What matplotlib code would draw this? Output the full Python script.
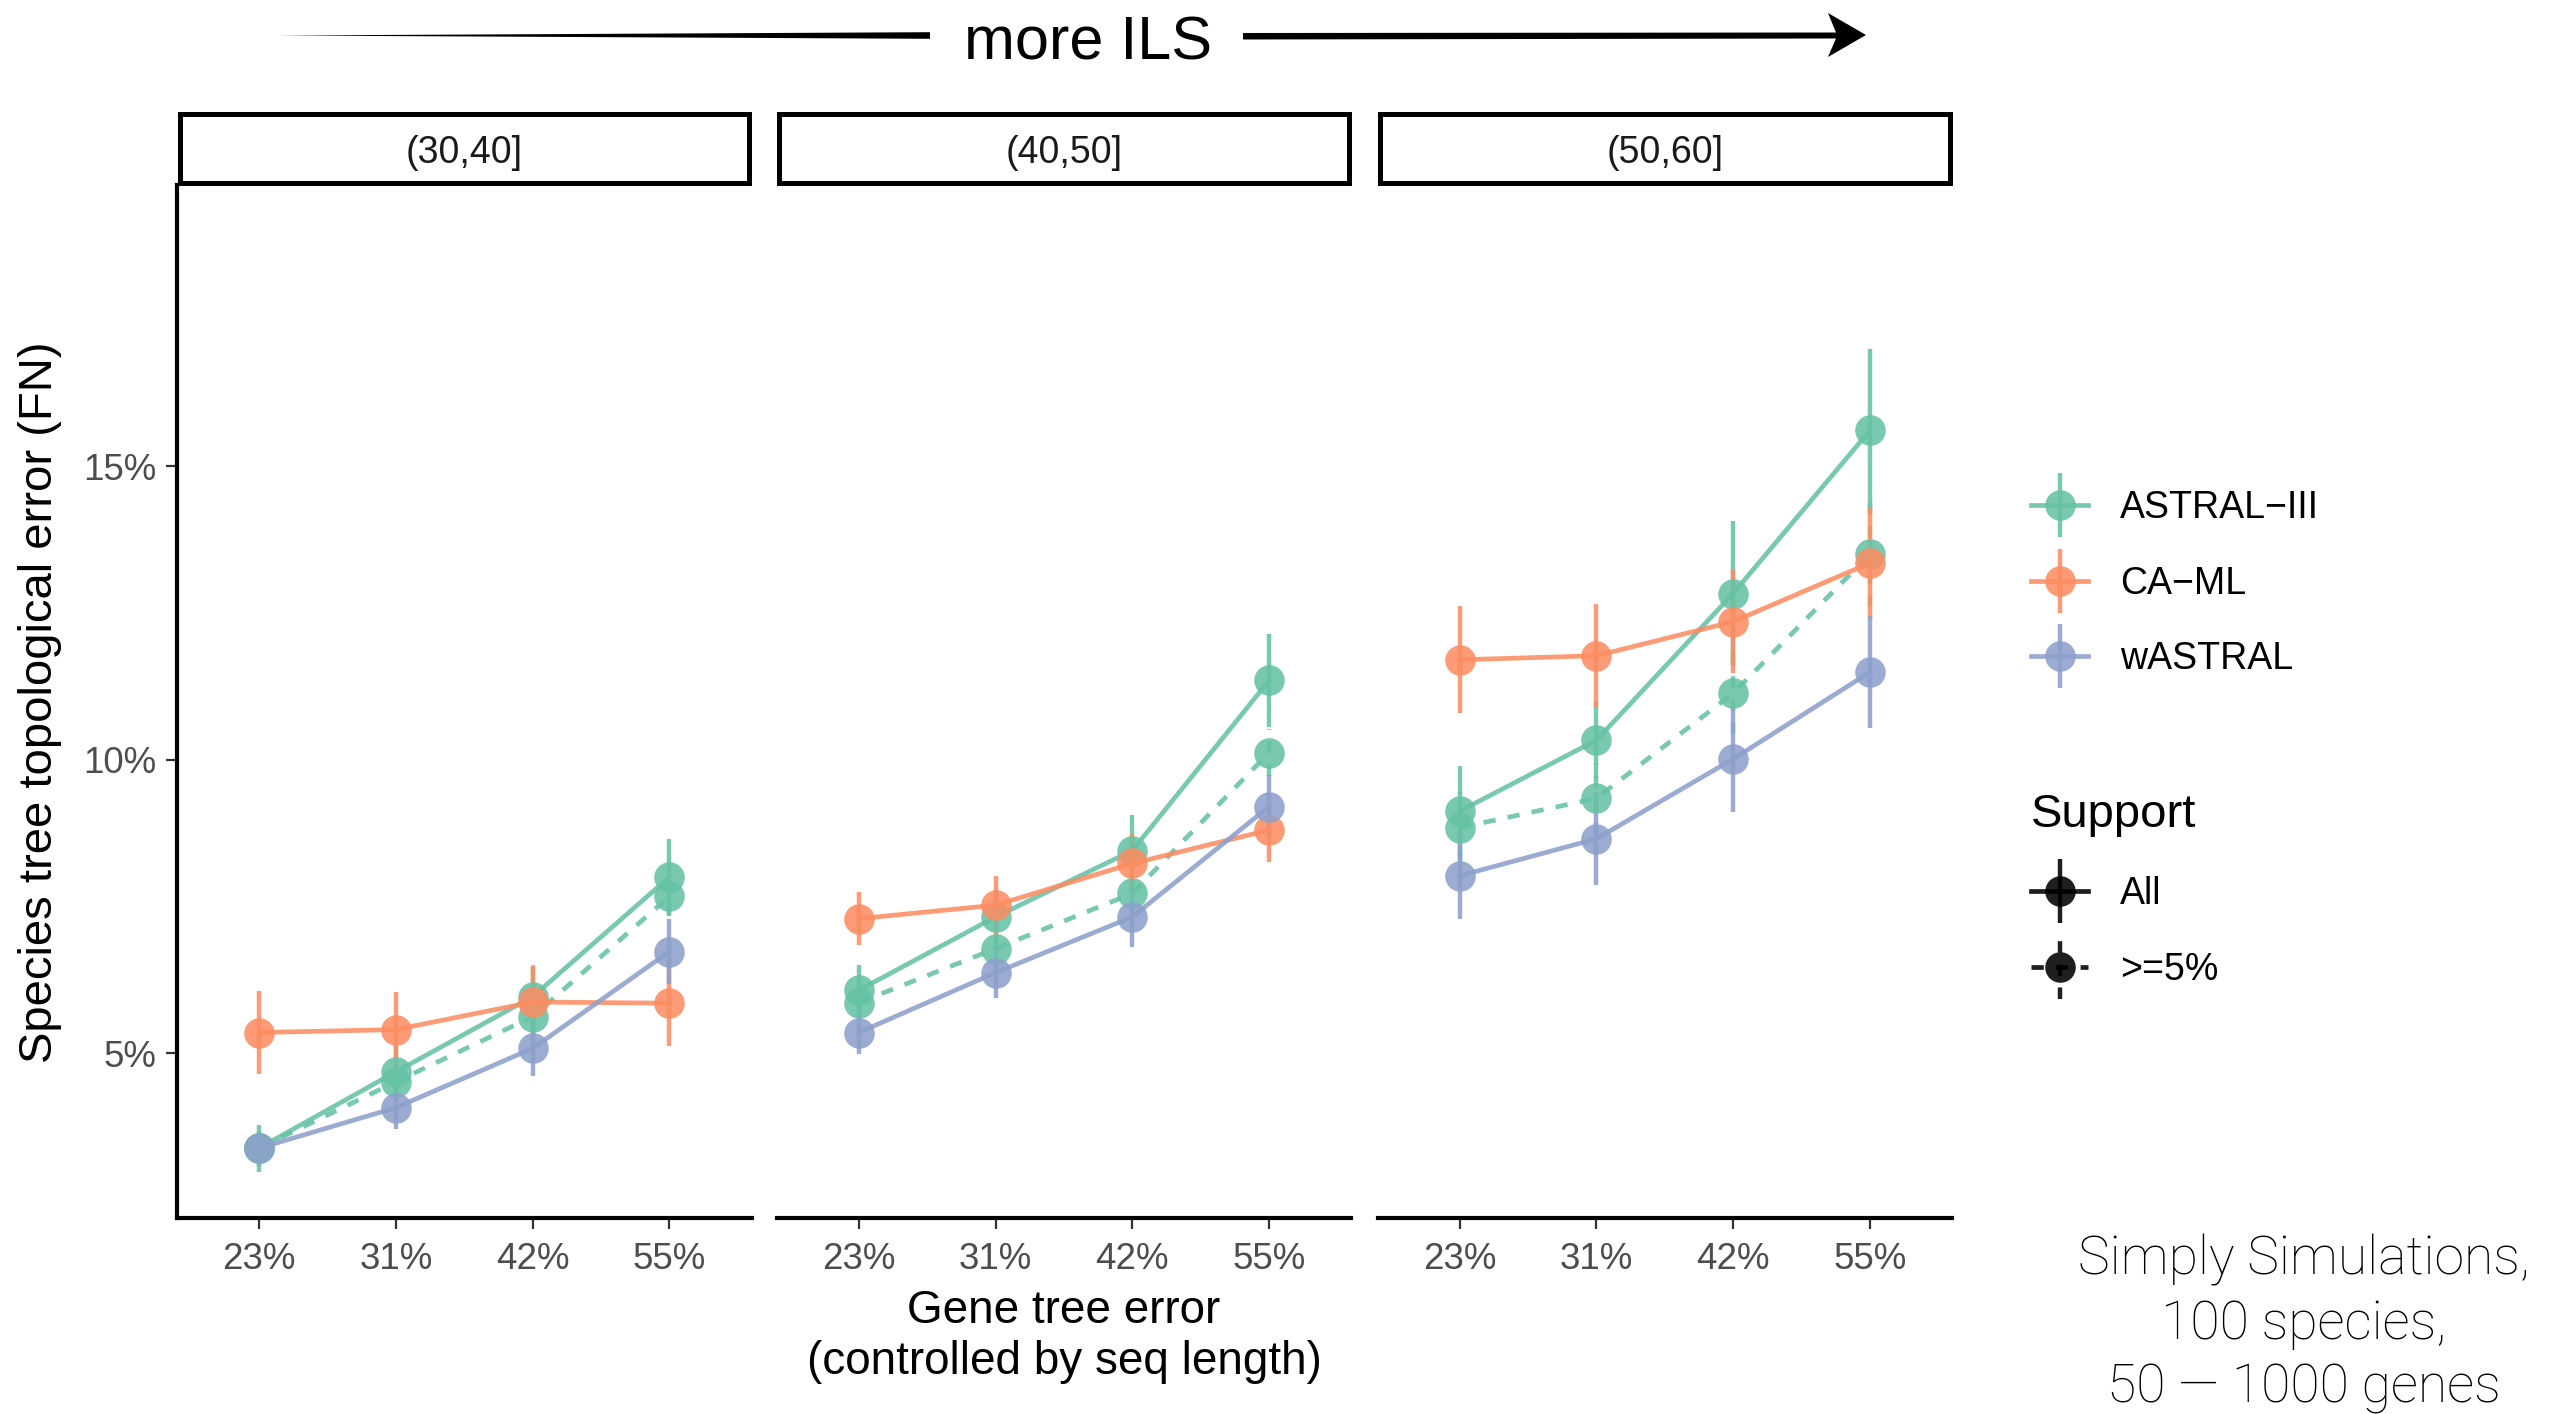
import matplotlib
matplotlib.use("Agg")
import matplotlib.pyplot as plt
from matplotlib.patches import Polygon
from matplotlib.container import ErrorbarContainer
from matplotlib.legend_handler import HandlerErrorbar

plt.rcParams['font.family'] = ['Liberation Sans', 'DejaVu Sans']

# ---------------- data ----------------
gte_labels = ["23%", "31%", "42%", "55%"]
ils_bins = ["(30,40]", "(40,50]", "(50,60]"]
methods = ["ASTRAL−III", "CA−ML", "wASTRAL"]
method_colors = ["#66C2A5", "#FC8D62", "#8DA0CB"]
support_levels = ["All", ">=5%"]

# ASTRAL-III, all support
astral_all = [[3.38, 4.68, 5.96, 8.00],
              [6.07, 7.32, 8.45, 11.35],
              [9.12, 10.33, 12.83, 15.61]]
astral_all_err = [[0.40, 0.45, 0.50, 0.64],
                  [0.43, 0.45, 0.60, 0.79],
                  [0.77, 0.65, 1.23, 1.39]]
# ASTRAL-III, contracted at >=5% support
astral_5 = [[3.38, 4.51, 5.62, 7.67],
            [5.86, 6.78, 7.72, 10.12],
            [8.84, 9.34, 11.13, 13.50]]
astral_5_err = [[0.30, 0.35, 0.40, 0.33],
                [0.30, 0.40, 0.40, 0.40],
                [0.60, 0.60, 0.70, 0.90]]
# CA-ML
caml_all = [[5.35, 5.40, 5.87, 5.85],
            [7.29, 7.52, 8.23, 8.80],
            [11.70, 11.77, 12.35, 13.35]]
caml_all_err = [[0.71, 0.64, 0.63, 0.73],
                [0.45, 0.50, 0.50, 0.54],
                [0.91, 0.88, 0.88, 0.96]]
# wASTRAL
wastral_all = [[3.38, 4.07, 5.08, 6.73],
               [5.35, 6.37, 7.32, 9.20],
               [8.02, 8.65, 10.01, 11.49]]
wastral_all_err = [[0.25, 0.36, 0.47, 0.56],
                   [0.37, 0.44, 0.51, 0.54],
                   [0.74, 0.79, 0.91, 0.95]]

y_ticks = [5, 10, 15]
y_tick_labels = ["5%", "10%", "15%"]
y_limits = (2.19, 19.79)

# ---------------- layout helpers ----------------
W, H = 2553, 1414
fig = plt.figure(figsize=(W / 100, H / 100), dpi=100)


def rect(x0, y0, x1, y1):
    return [x0 / W, 1 - y1 / H, (x1 - x0) / W, (y1 - y0) / H]


panel_lefts = [177, 776.7, 1377.5]
panel_w = 574.5
panel_top, panel_bottom = 185, 1218

LW = 3.4
ELW = 3.2
MS = 22
ALPHA = 0.88
DASH = (0, (2.6, 2.6))
xs = list(range(1, len(gte_labels) + 1))

legend_handles = {}
axes = []
for i in range(3):
    ax = fig.add_axes(rect(panel_lefts[i], panel_top, panel_lefts[i] + panel_w, panel_bottom))
    axes.append(ax)
    series = [
        (astral_5[i], astral_5_err[i], method_colors[0], True, None),
        (astral_all[i], astral_all_err[i], method_colors[0], False, 0),
        (caml_all[i], caml_all_err[i], method_colors[1], False, 1),
        (wastral_all[i], wastral_all_err[i], method_colors[2], False, 2),
    ]
    for vals, errs, col, dashed, key in series:
        cont = ax.errorbar(xs, vals, yerr=errs, fmt='o', linestyle=DASH if dashed else '-',
                           color=col, ecolor=col, lw=LW, elinewidth=ELW, ms=MS, mew=0,
                           capsize=0, alpha=ALPHA)
        if dashed:
            cont[2][0].set_linestyle(DASH)
        if key is not None and i == 2:
            legend_handles[key] = cont

    ax.set_xlim(0.4, len(gte_labels) + 0.6)
    ax.set_ylim(*y_limits)
    ax.set_xticks(xs)
    ax.set_xticklabels(gte_labels)
    for s in ("top", "right"):
        ax.spines[s].set_visible(False)
    ax.spines["bottom"].set_linewidth(3.0)
    ax.spines["bottom"].set_capstyle("projecting")
    ax.spines["left"].set_linewidth(3.0)
    ax.spines["left"].set_capstyle("projecting")
    ax.tick_params(axis='both', colors='#333333', width=1.6, length=8,
                   labelsize=26.5, labelcolor='#4D4D4D')
    ax.tick_params(axis='x', pad=9.5)
    ax.tick_params(axis='y', pad=7)
    if i == 0:
        ax.set_yticks(y_ticks)
        ax.set_yticklabels(y_tick_labels)
    else:
        ax.spines["left"].set_visible(False)
        ax.set_yticks([])
    ax.set_facecolor('none')

    # strip
    sax = fig.add_axes(rect(panel_lefts[i] + 2.5, 114.2, panel_lefts[i] + panel_w - 2.5, 182.5))
    sax.set_xticks([])
    sax.set_yticks([])
    for s in sax.spines.values():
        s.set_linewidth(3.6)
        s.set_color('black')
    sax.text(0.5, 0.43, ils_bins[i], ha='center', va='center', fontsize=27,
             color='#1A1A1A', transform=sax.transAxes)

# dummy black handles for the support legend
black_handles = []
for ls in ('-', DASH):
    c = axes[2].errorbar([], [], yerr=[], fmt='o', linestyle=ls, color='black', ecolor='black',
                         lw=LW, elinewidth=ELW, ms=MS, mew=0, capsize=0, alpha=ALPHA)
    if ls != '-':
        c[2][0].set_linestyle(DASH)
    black_handles.append(c)

# axis titles
fig.text(40 / W, 1 - 702 / H, "Species tree topological error (FN)", rotation=90,
         ha='center', va='center', fontsize=34)
fig.text(1064 / W, 1 - 1323 / H, "Gene tree error", ha='center', va='baseline', fontsize=33)
fig.text(1064 / W, 1 - 1374 / H, "(controlled by seq length)", ha='center', va='baseline', fontsize=33)

# legends
hm = {ErrorbarContainer: HandlerErrorbar(xerr_size=0.85, yerr_size=0.85)}
leg1 = fig.legend(handles=[legend_handles[0], legend_handles[1], legend_handles[2]],
                  labels=methods, loc='upper left', bbox_to_anchor=(2031 / W, 1 - 490.5 / H),
                  frameon=False, fontsize=27, borderpad=0, borderaxespad=0,
                  handlelength=1.52, handletextpad=0.85, labelspacing=1.05,
                  handler_map=hm, numpoints=1)
leg2 = fig.legend(handles=black_handles, labels=support_levels, title="Support",
                  title_fontsize=34, alignment='left', loc='upper left',
                  bbox_to_anchor=(2031 / W, 1 - 793 / H), frameon=False, fontsize=27,
                  borderpad=0, borderaxespad=0, handlelength=1.52, handletextpad=0.85,
                  labelspacing=1.05, handler_map=hm, numpoints=1)

# top annotation: tapered arrow + "more ILS"
over = fig.add_axes([0, 0, 1, 1], zorder=-1)
over.set_xlim(0, W)
over.set_ylim(H, 0)
over.axis('off')
over.add_patch(Polygon([(277, 35.5), (930, 32.2), (930, 38.8)], closed=True,
                       facecolor='black', edgecolor='none'))
over.add_patch(Polygon([(1243, 33.0), (1836, 32.5), (1828, 13), (1866, 35),
                        (1828, 57), (1836, 38.5), (1243, 39.5)], closed=True,
                       facecolor='black', edgecolor='none'))
fig.text(1088 / W, 1 - 60 / H, "more ILS", ha='center', va='baseline', fontsize=44)

# bottom-right note
note_lines = ["Simply Simulations,", "100 species,", "50 — 1000 genes"]
for line, yb in zip(note_lines, [1275, 1339, 1403]):
    fig.text(2304 / W, 1 - yb / H, line, ha='center', va='baseline', fontsize=38.5,
             family=['Roboto', 'DejaVu Sans'], fontweight='light', color='black')

fig.savefig("out.png", dpi=100)
